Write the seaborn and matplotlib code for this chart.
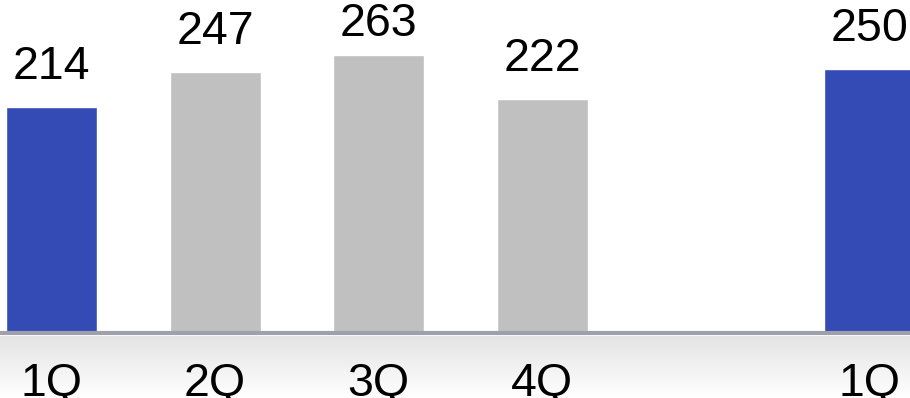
import numpy as np
import pandas as pd
import matplotlib
matplotlib.use("Agg")
import matplotlib.pyplot as plt
import seaborn as sns

# Quarterly values: first quarter of the prior year, the rest of that year, then the latest quarter
periods = ["1Q_prev", "2Q", "3Q", "4Q", "1Q_curr"]
tick_labels = ["1Q", "2Q", "3Q", "4Q", "", "1Q"]
values = [214, 247, 263, 222, 250]
highlight = ["yes", "no", "no", "no", "yes"]

BLUE = "#344bb6"
GREY = "#c0c0c0"
FONT_SIZE = 33.5

sns.set_theme(style="white")
plt.rcParams["font.family"] = ["Liberation Sans", "DejaVu Sans"]

df = pd.DataFrame({"period": periods, "value": values, "highlight": highlight})
order = ["1Q_prev", "2Q", "3Q", "4Q", "gap", "1Q_curr"]

fig = plt.figure(figsize=(9.10, 3.98), dpi=100)

# soft grey band under the axis line, fading to white downwards
band = fig.add_axes([0, 0, 1, 0.155])
grad = np.linspace(0.0, 1.0, 256).reshape(-1, 1)
band.imshow(grad, aspect="auto", cmap=matplotlib.colors.LinearSegmentedColormap.from_list(
    "band", ["#ffffff", "#e4e4e4"]), extent=[0, 1, 0, 1], origin="lower")
band.set_axis_off()

ax = fig.add_axes([0, 0.163, 1, 0.837])
sns.barplot(data=df, x="period", y="value", hue="highlight", order=order,
            palette={"yes": BLUE, "no": GREY}, width=0.556, dodge=False,
            saturation=1, legend=False, ax=ax)

YMAX = 315.3
ax.set_xlim(-0.315, 5.248)
ax.set_ylim(0, YMAX)

# value labels above each bar, kept inside the top edge of the chart
gap = 26.5          # space between bar top and label baseline, in data units
ceiling = YMAX - 34  # highest allowed baseline
for patch in ax.patches:
    h = patch.get_height()
    if not np.isfinite(h) or h <= 0:
        continue
    xc = patch.get_x() + patch.get_width() / 2
    ax.text(xc, min(h + gap, ceiling), f"{int(round(h))}", ha="center",
            va="baseline", fontsize=FONT_SIZE, color="black")

ax.set_xlabel("")
ax.set_ylabel("")
ax.set_yticks([])
ax.set_xticks(range(len(order)))
ax.set_xticklabels(tick_labels, fontsize=FONT_SIZE, color="black")
ax.tick_params(axis="x", length=0, pad=20.5)
for side in ["top", "left", "right"]:
    ax.spines[side].set_visible(False)
ax.spines["bottom"].set_color("#a0a0ac")
ax.spines["bottom"].set_linewidth(3)
ax.patch.set_alpha(0)

fig.savefig("out.png", dpi=100)
